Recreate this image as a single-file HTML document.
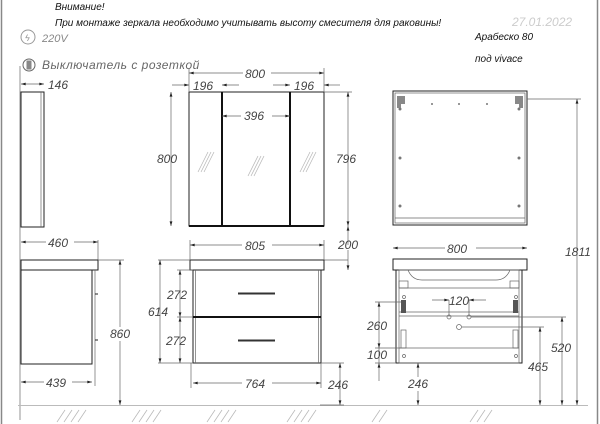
<!DOCTYPE html>
<html><head><meta charset="utf-8"><style>
html,body{margin:0;padding:0;background:#fff}
svg{display:block}
text{font-family:"Liberation Sans","DejaVu Sans",sans-serif;font-style:italic;fill:#333}
.d{font-size:12px;fill:#444}
.l{stroke:#222;fill:none;stroke-width:1}
.t{stroke:#666;fill:none;stroke-width:0.7}
.k{stroke:#111;fill:none;stroke-width:2}
.h{stroke:#bbb;stroke-width:0.8}
</style></head><body>
<svg width="600" height="424" viewBox="0 0 600 424" xmlns="http://www.w3.org/2000/svg">
<defs><marker id="a" viewBox="0 0 10 6" refX="10" refY="3" markerWidth="8" markerHeight="4" orient="auto-start-reverse"><path d="M0,0L10,3L0,6z" fill="#222"/></marker></defs>
<line x1="1.5" y1="0" x2="1.5" y2="424" stroke="#888" stroke-width="1.5"/>
<line x1="597.5" y1="0" x2="597.5" y2="424" stroke="#888" stroke-width="1.5"/>
<text x="55" y="10" font-size="10" fill="#111" style="fill:#111">Внимание!</text>
<text x="55" y="26" font-size="10" style="fill:#111">При монтаже зеркала необходимо учитывать высоту смесителя для раковины!</text>
<text x="512" y="26" font-size="12" style="fill:#ccc">27.01.2022</text>
<text x="475" y="40" font-size="10" style="fill:#111">Арабеско 80</text>
<text x="475" y="62" font-size="10" style="fill:#111">под vivace</text>
<circle cx="28" cy="37" r="7" fill="none" stroke="#999"/><text x="25" y="41" font-size="9" style="fill:#999">ϟ</text>
<text x="42" y="42" font-size="11" style="fill:#888">220V</text>
<circle cx="29" cy="65" r="6" fill="none" stroke="#666"/><rect x="26.5" y="60.5" width="5" height="9" fill="#888"/>
<text x="42" y="69" font-size="12" style="fill:#666" letter-spacing="0.5">Выключатель  с  розеткой</text>

<!-- left side mirror -->
<line class="t" x1="20" y1="66" x2="20" y2="420"/>
<rect class="l" x="21" y="92" width="23" height="135"/><line class="t" x1="41" y1="92" x2="41" y2="227"/>
<line class="t" x1="21" y1="84" x2="44" y2="84" marker-start="url(#a)" marker-end="url(#a)"/><text class="d" x="48" y="89">146</text>

<!-- mirror front -->
<rect class="l" x="189" y="92" width="135" height="134"/>
<line class="k" x1="222" y1="92" x2="222" y2="226"/><line class="k" x1="290" y1="92" x2="290" y2="226"/>
<line class="k" x1="189" y1="226" x2="324" y2="226"/>
<g stroke="#bbb" stroke-width="0.8"><line x1="198" y1="172" x2="208" y2="152"/><line x1="201" y1="172" x2="211" y2="152"/><line x1="204" y1="172" x2="214" y2="152"/>
<line x1="248" y1="176" x2="258" y2="156"/><line x1="251" y1="176" x2="261" y2="156"/><line x1="254" y1="176" x2="264" y2="156"/>
<line x1="300" y1="172" x2="310" y2="152"/><line x1="303" y1="172" x2="313" y2="152"/><line x1="306" y1="172" x2="316" y2="152"/></g>
<line class="t" x1="189" y1="73" x2="324" y2="73" marker-start="url(#a)" marker-end="url(#a)"/><rect x="243" y="65" width="28" height="14" fill="#fff"/><text class="d" x="245" y="78">800</text>
<line class="t" x1="189" y1="68" x2="189" y2="92"/><line class="t" x1="324" y1="68" x2="324" y2="92"/>
<line class="t" x1="172" y1="85" x2="189" y2="85" marker-end="url(#a)"/><line class="t" x1="239" y1="85" x2="222" y2="85" marker-end="url(#a)"/><text class="d" x="193" y="90">196</text>
<line class="t" x1="273" y1="85" x2="290" y2="85" marker-end="url(#a)"/><line class="t" x1="340" y1="85" x2="324" y2="85" marker-end="url(#a)"/><text class="d" x="294" y="90">196</text>
<line class="t" x1="222" y1="116" x2="290" y2="116" marker-start="url(#a)" marker-end="url(#a)"/><rect x="241" y="109" width="31" height="14" fill="#fff"/><text class="d" x="244" y="120">396</text>
<line class="t" x1="171" y1="92" x2="171" y2="226" marker-start="url(#a)" marker-end="url(#a)"/><text class="d" x="157" y="163">800</text>
<line class="t" x1="348" y1="92" x2="348" y2="226" marker-start="url(#a)" marker-end="url(#a)"/><text class="d" x="336" y="163">796</text>
<line class="t" x1="324" y1="92" x2="352" y2="92"/>
<line class="t" x1="348" y1="226" x2="348" y2="245" marker-start="url(#a)"/><line class="t" x1="348" y1="270" x2="348" y2="250" marker-start="url(#a)"/><text class="d" x="338" y="249">200</text>
<line class="t" x1="324" y1="260" x2="348" y2="260"/>

<!-- left side cabinet -->
<line class="t" x1="21" y1="242" x2="98" y2="242" marker-start="url(#a)" marker-end="url(#a)"/><rect x="46" y="235" width="28" height="14" fill="#fff"/><text class="d" x="48" y="247">460</text>
<line class="t" x1="98" y1="240" x2="98" y2="260"/>
<rect class="l" x="21" y="260" width="77" height="10"/>
<rect class="l" x="21" y="270" width="71" height="94"/><line class="t" x1="95" y1="270" x2="95" y2="364"/>
<line class="l" x1="95" y1="294" x2="98" y2="294"/><line class="l" x1="95" y1="340" x2="98" y2="340"/>
<line class="t" x1="21" y1="382" x2="92" y2="382" marker-start="url(#a)" marker-end="url(#a)"/><rect x="44" y="375" width="28" height="14" fill="#fff"/><text class="d" x="46" y="387">439</text>
<line class="t" x1="95" y1="364" x2="95" y2="386"/>
<line class="t" x1="98" y1="260" x2="124" y2="260"/>
<line class="t" x1="120" y1="260" x2="120" y2="405" marker-start="url(#a)" marker-end="url(#a)"/><rect x="108" y="327" width="28" height="14" fill="#fff"/><text class="d" x="110" y="338">860</text>

<!-- floor -->
<line x1="18" y1="405.5" x2="588" y2="405.5" stroke="#bbb"/>
<g class="h"><line x1="57" y1="422" x2="65" y2="410"/><line x1="64" y1="422" x2="72" y2="410"/><line x1="71" y1="422" x2="79" y2="410"/><line x1="78" y1="422" x2="86" y2="410"/>
<line x1="132" y1="422" x2="140" y2="410"/><line x1="139" y1="422" x2="147" y2="410"/><line x1="146" y1="422" x2="154" y2="410"/><line x1="153" y1="422" x2="161" y2="410"/>
<line x1="207" y1="422" x2="215" y2="410"/><line x1="214" y1="422" x2="222" y2="410"/><line x1="221" y1="422" x2="229" y2="410"/><line x1="228" y1="422" x2="236" y2="410"/>
<line x1="287" y1="422" x2="295" y2="410"/><line x1="294" y1="422" x2="302" y2="410"/><line x1="301" y1="422" x2="309" y2="410"/><line x1="308" y1="422" x2="316" y2="410"/>
<line x1="372" y1="422" x2="380" y2="410"/><line x1="379" y1="422" x2="387" y2="410"/>
<line x1="470" y1="422" x2="478" y2="410"/><line x1="477" y1="422" x2="485" y2="410"/><line x1="484" y1="422" x2="492" y2="410"/></g>

<!-- front cabinet -->
<rect class="l" x="190" y="260" width="134" height="10"/>
<rect class="l" x="193" y="270" width="128" height="93"/><line class="t" x1="195.5" y1="270" x2="195.5" y2="363"/><line class="t" x1="318.5" y1="270" x2="318.5" y2="363"/>
<line class="k" x1="193" y1="317" x2="321" y2="317" stroke-width="1.5"/>
<line x1="238" y1="293.5" x2="275" y2="293.5" stroke="#333" stroke-width="2"/><line x1="238" y1="340.5" x2="275" y2="340.5" stroke="#333" stroke-width="2"/>
<line class="t" x1="190" y1="245" x2="324" y2="245" marker-start="url(#a)" marker-end="url(#a)"/><rect x="242" y="238" width="30" height="14" fill="#fff"/><text class="d" x="245" y="250">805</text>
<line class="t" x1="190" y1="240" x2="190" y2="260"/><line class="t" x1="324" y1="240" x2="324" y2="260"/>
<line class="t" x1="158" y1="260" x2="190" y2="260"/><line class="t" x1="158" y1="363" x2="193" y2="363"/>
<line class="t" x1="160" y1="260" x2="160" y2="363" marker-start="url(#a)" marker-end="url(#a)"/><text class="d" x="148" y="316">614</text>
<line class="t" x1="177" y1="270" x2="193" y2="270"/><line class="t" x1="177" y1="317" x2="193" y2="317"/>
<line class="t" x1="180" y1="270" x2="180" y2="317" marker-start="url(#a)" marker-end="url(#a)"/><text class="d" x="167" y="299">272</text>
<line class="t" x1="180" y1="317" x2="180" y2="363" marker-start="url(#a)" marker-end="url(#a)"/><text class="d" x="166" y="345">272</text>
<line class="t" x1="191" y1="363" x2="191" y2="388"/><line class="t" x1="321" y1="363" x2="321" y2="388"/>
<line class="t" x1="193" y1="383" x2="321" y2="383" marker-start="url(#a)" marker-end="url(#a)"/><rect x="242" y="376" width="30" height="14" fill="#fff"/><text class="d" x="245" y="388">764</text>
<line class="t" x1="321" y1="363" x2="344" y2="363"/>
<line class="t" x1="340" y1="363" x2="340" y2="405" marker-start="url(#a)" marker-end="url(#a)"/><text class="d" x="328" y="389">246</text>
<line class="t" x1="320" y1="405" x2="344" y2="405"/>

<!-- right view mirror -->
<rect class="l" x="393" y="91" width="134" height="134"/><rect class="t" x="395" y="93" width="130" height="130"/>
<line class="t" x1="395" y1="218" x2="525" y2="218"/>
<g fill="#777"><circle cx="400" cy="109" r="1.5"/><circle cx="519" cy="109" r="1.5"/><circle cx="400" cy="158" r="1.5"/><circle cx="519" cy="158" r="1.5"/><circle cx="400" cy="206" r="1.5"/><circle cx="519" cy="206" r="1.5"/>
<circle cx="432" cy="104" r="1"/><circle cx="459" cy="104" r="1"/><circle cx="487" cy="104" r="1"/></g>
<path d="M397,96h8v8h-4v4h-4z" fill="#888"/><path d="M523,96h-8v8h4v4h4z" fill="#888"/>
<line class="t" x1="527" y1="99" x2="581" y2="99"/>
<line class="t" x1="577" y1="99" x2="577" y2="405" marker-start="url(#a)" marker-end="url(#a)"/><text class="d" x="565" y="256">1811</text>

<!-- right view cabinet -->
<line class="t" x1="393" y1="248" x2="527" y2="248" marker-start="url(#a)" marker-end="url(#a)"/><rect x="445" y="241" width="31" height="14" fill="#fff"/><text class="d" x="447" y="253">800</text>
<rect class="l" x="393" y="259" width="134" height="11"/>
<rect class="l" x="396" y="270" width="126" height="93"/><rect class="t" x="399" y="270" width="120" height="93"/>
<path class="t" d="M408,270 q4,10 14,10 h74 q10,0 14,-10"/>
<rect class="t" x="399" y="281" width="9" height="7"/><rect class="t" x="510" y="281" width="9" height="7"/>
<line class="t" x1="399" y1="288" x2="519" y2="288"/>
<line class="t" x1="399" y1="312" x2="519" y2="312"/><line class="t" x1="399" y1="316" x2="519" y2="316"/>
<line class="t" x1="399" y1="348" x2="519" y2="348"/>
<rect x="401" y="300" width="5" height="13" fill="#555"/><rect x="513" y="300" width="5" height="13" fill="#555"/>
<rect class="t" x="401" y="330" width="5" height="18"/><rect class="t" x="513" y="330" width="5" height="18"/>
<g fill="none" stroke="#666" stroke-width="0.7"><circle cx="404" cy="297" r="1.5"/><circle cx="516" cy="297" r="1.5"/><circle cx="404" cy="356" r="1.5"/><circle cx="516" cy="356" r="1.5"/>
<circle cx="449" cy="317" r="2"/><circle cx="469" cy="317" r="2"/><circle cx="459" cy="327" r="2.5"/></g>
<line class="t" x1="449" y1="300" x2="449" y2="315"/><line class="t" x1="469" y1="300" x2="469" y2="315"/>
<line class="t" x1="432" y1="300" x2="449" y2="300" marker-end="url(#a)"/><line class="t" x1="486" y1="300" x2="469" y2="300" marker-end="url(#a)"/><text class="d" x="449" y="305">120</text>
<line class="t" x1="471" y1="317" x2="566" y2="317"/><line class="t" x1="462" y1="327" x2="544" y2="327"/>
<line class="t" x1="562" y1="317" x2="562" y2="405" marker-start="url(#a)" marker-end="url(#a)"/><text class="d" x="551" y="352">520</text>
<line class="t" x1="540" y1="327" x2="540" y2="405" marker-start="url(#a)" marker-end="url(#a)"/><text class="d" x="528" y="371">465</text>
<line class="t" x1="375" y1="302" x2="401" y2="302"/><line class="t" x1="375" y1="348" x2="401" y2="348"/><line class="t" x1="375" y1="363" x2="396" y2="363"/>
<line class="t" x1="379" y1="302" x2="379" y2="348" marker-start="url(#a)" marker-end="url(#a)"/><text class="d" x="367" y="330">260</text>
<line class="t" x1="379" y1="348" x2="379" y2="363"/><text class="d" x="367" y="359">100</text>
<line class="t" x1="379" y1="381" x2="379" y2="363" marker-end="url(#a)"/>
<line class="t" x1="418" y1="363" x2="418" y2="405" marker-start="url(#a)" marker-end="url(#a)"/><rect x="406" y="377" width="28" height="14" fill="#fff"/><text class="d" x="408" y="388">246</text>
</svg>
</body></html>
